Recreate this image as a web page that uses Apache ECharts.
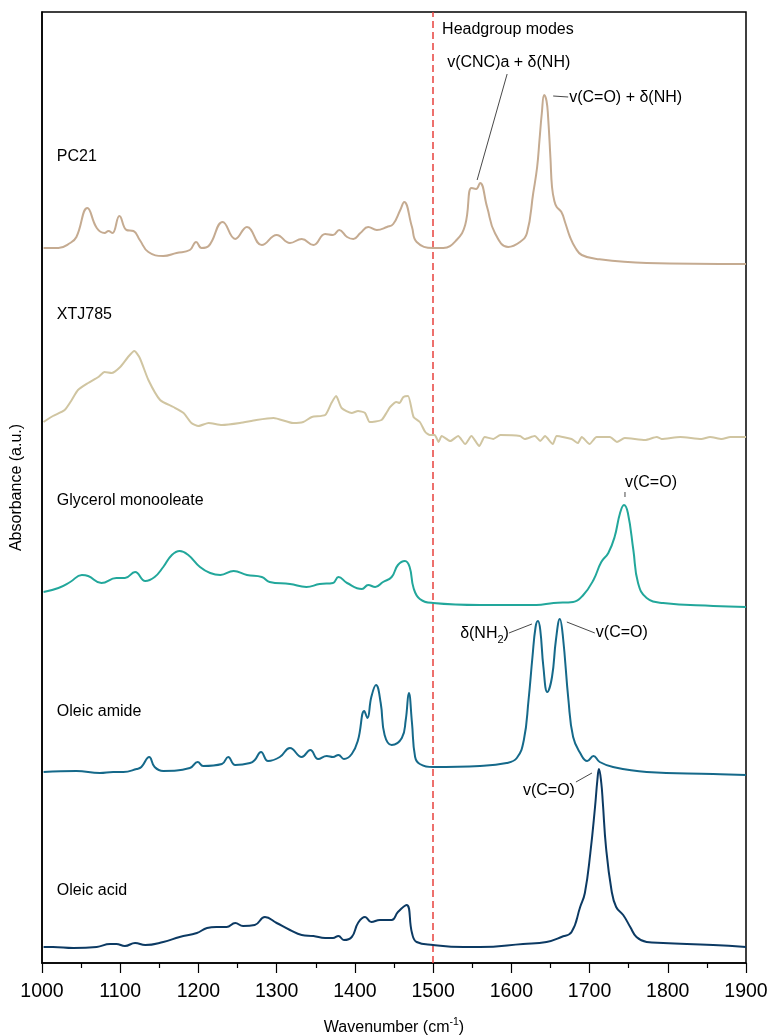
<!DOCTYPE html>
<html>
<head>
<meta charset="utf-8">
<script src="https://cdn.jsdelivr.net/npm/echarts@6/dist/echarts.min.js"></script>
<style>
  html, body { margin: 0; padding: 0; background: #fff; }
  #chart { width: 772px; height: 1035px; }
</style>
</head>
<body>
<div id="chart"></div>
<script>
// FTIR spectra, 1000–1900 cm-1, stacked with a vertical offset per sample.
// Absorbance values are relative to each spectrum's own baseline (a.u.).

const xTicks = [1000, 1100, 1200, 1300, 1400, 1500, 1600, 1700, 1800, 1900];

const sampleNames = ['PC21', 'XTJ785', 'Glycerol monooleate', 'Oleic amide', 'Oleic acid'];
const sampleOffsets = [7.0, 5.2, 3.5, 1.8, 0.1];

const wnPC21 = [1002,1021,1036,1044,1058,1070,1080,1085,1090,1099,1108,1117,1125,1136,1155,1172,1189,1197,1204,1213,1231,1247,1262,1281,1300,1317,1332,1347,1362,1372,1380,1390,1398,1407,1417,1428,1441,1449,1458,1463,1473,1479,1500,1513,1530,1541,1549,1555,1560,1569,1579,1596,1611,1620,1628,1633,1636,1639,1642,1645,1647,1650,1652,1655,1658,1664,1669,1675,1682,1690,1709,1773,1900];
const absPC21 = [0.15,0.15,0.20,0.26,0.55,0.35,0.30,0.32,0.30,0.47,0.33,0.32,0.23,0.11,0.07,0.10,0.13,0.21,0.15,0.17,0.41,0.24,0.36,0.18,0.28,0.20,0.24,0.18,0.29,0.28,0.33,0.26,0.24,0.30,0.36,0.33,0.36,0.39,0.53,0.61,0.36,0.21,0.15,0.15,0.23,0.38,0.75,0.74,0.80,0.56,0.30,0.16,0.21,0.30,0.70,0.96,1.23,1.50,1.68,1.62,1.46,1.05,0.76,0.62,0.56,0.51,0.40,0.26,0.15,0.08,0.04,0.00,-0.01];

const wnXTJ785 = [1002,1014,1029,1038,1046,1059,1072,1080,1089,1100,1110,1118,1125,1136,1151,1168,1181,1191,1200,1213,1230,1253,1274,1296,1321,1334,1345,1362,1370,1376,1383,1396,1404,1413,1419,1434,1441,1445,1453,1457,1462,1468,1475,1483,1490,1496,1502,1507,1511,1522,1532,1541,1549,1559,1566,1577,1586,1611,1617,1630,1637,1643,1653,1658,1677,1685,1690,1700,1709,1726,1735,1745,1771,1786,1792,1816,1843,1854,1869,1880,1900];
const absXTJ785 = [0.21,0.27,0.33,0.43,0.53,0.60,0.66,0.71,0.70,0.76,0.86,0.92,0.85,0.63,0.43,0.36,0.30,0.20,0.17,0.20,0.18,0.20,0.23,0.25,0.20,0.21,0.26,0.28,0.40,0.47,0.35,0.30,0.32,0.30,0.21,0.23,0.31,0.36,0.41,0.40,0.46,0.47,0.26,0.21,0.11,0.08,0.08,0.01,0.07,0.02,0.07,-0.01,0.07,-0.03,0.06,0.04,0.08,0.07,0.04,0.07,0.02,0.07,-0.01,0.07,0.04,0.00,0.06,-0.01,0.06,0.06,0.01,0.05,0.03,0.06,0.04,0.06,0.04,0.06,0.04,0.06,0.06];

const wnGMO = [1002,1021,1036,1051,1059,1076,1095,1106,1119,1132,1144,1155,1166,1176,1187,1202,1215,1228,1245,1262,1281,1291,1317,1338,1355,1372,1379,1390,1409,1417,1426,1436,1447,1455,1464,1470,1475,1483,1500,1560,1632,1654,1679,1692,1705,1715,1724,1732,1739,1744,1749,1756,1762,1773,1794,1858,1900];
const absGMO = [0.21,0.25,0.31,0.38,0.37,0.30,0.35,0.35,0.41,0.32,0.36,0.46,0.58,0.62,0.58,0.46,0.40,0.38,0.42,0.38,0.36,0.31,0.29,0.26,0.29,0.30,0.36,0.30,0.24,0.28,0.26,0.31,0.36,0.48,0.52,0.46,0.25,0.14,0.10,0.08,0.08,0.10,0.11,0.18,0.33,0.51,0.60,0.76,1.00,1.08,1.00,0.63,0.30,0.15,0.10,0.07,0.06];

const wnAmide = [1002,1044,1074,1091,1104,1121,1127,1137,1144,1155,1189,1199,1206,1230,1238,1247,1266,1272,1280,1289,1304,1317,1332,1343,1353,1364,1372,1379,1386,1396,1404,1412,1416,1421,1427,1433,1438,1447,1460,1465,1469,1473,1477,1483,1500,1560,1594,1607,1616,1622,1627,1631,1634,1637,1641,1646,1652,1657,1662,1666,1673,1679,1688,1697,1705,1713,1730,1773,1858,1900];
const absAmide = [0.11,0.12,0.10,0.11,0.11,0.14,0.16,0.26,0.16,0.12,0.15,0.21,0.17,0.19,0.26,0.18,0.20,0.23,0.31,0.22,0.26,0.35,0.26,0.33,0.24,0.27,0.26,0.28,0.24,0.29,0.43,0.72,0.65,0.86,0.98,0.80,0.48,0.38,0.45,0.63,0.90,0.60,0.26,0.19,0.16,0.17,0.20,0.25,0.43,0.83,1.26,1.56,1.62,1.53,1.16,0.91,1.06,1.43,1.64,1.46,0.83,0.46,0.30,0.22,0.27,0.21,0.16,0.11,0.09,0.08];

const wnOleicAcid = [1002,1014,1040,1070,1087,1095,1106,1119,1132,1155,1176,1198,1211,1223,1236,1247,1257,1272,1285,1300,1317,1332,1347,1362,1372,1379,1386,1396,1404,1413,1421,1432,1447,1455,1466,1473,1479,1500,1539,1560,1615,1645,1664,1677,1688,1694,1701,1707,1710,1712,1715,1717,1721,1728,1734,1743,1752,1760,1773,1794,1858,1900];
const absOleicAcid = [0.06,0.06,0.05,0.06,0.09,0.09,0.07,0.10,0.08,0.11,0.16,0.20,0.25,0.26,0.26,0.30,0.27,0.28,0.36,0.30,0.23,0.18,0.17,0.15,0.15,0.17,0.13,0.16,0.30,0.36,0.31,0.33,0.33,0.41,0.48,0.20,0.11,0.08,0.06,0.06,0.09,0.11,0.16,0.21,0.46,0.60,1.00,1.46,1.73,1.84,1.70,1.50,1.06,0.63,0.46,0.38,0.26,0.16,0.11,0.10,0.08,0.06];

const spectraWn = [wnPC21, wnXTJ785, wnGMO, wnAmide, wnOleicAcid];
const spectraAbs = [absPC21, absXTJ785, absGMO, absAmide, absOleicAcid];
const lineColors = ['#C5AB91', '#D0C5A1', '#22A79B', '#15698A', '#0C3A63'];
const smoothing = [0.45, 0.2, 0.45, 0.45, 0.45];

// height of each sample name above its baseline (a.u.)
const nameHeights = [1.06, 1.28, 1.12, 0.71, 0.62];

const headgroupBoundary = 1500;

// Band assignments: sample index, peak wavenumber, label text and pixel placement
const bandLabels = [
  { s: 0, peak: 1555, text: 'v(CNC)a + δ(NH)', dx: -29, dy: -126, align: 'left',  line: [[31, -115], [1, -9]] },
  { s: 0, peak: 1642, text: 'v(C=O) + δ(NH)',  dx: 25,  dy: 3,    align: 'left',  line: [[9, 1], [24, 2]] },
  { s: 2, peak: 1744, text: 'v(C=O)',          dx: 1,   dy: -22,  align: 'left',  line: [[1, -13], [1, -8]] },
  { s: 3, peak: 1634, rich: '{n|δ(NH}{sub|2}{n|)}', dx: -29, dy: 13, align: 'right', line: [[-6, 3], [-29, 12]] },
  { s: 3, peak: 1662, text: 'v(C=O)',          dx: 36,  dy: 14,   align: 'left',  line: [[7, 3], [35, 14]] },
  { s: 4, peak: 1712, text: 'v(C=O)',          dx: -24, dy: 22,   align: 'right', line: [[-7, 4], [-23, 13]] }
];

const FONT = '"Liberation Sans", Arial, Helvetica, sans-serif';

const series = spectraWn.map((wn, i) => ({
  name: sampleNames[i],
  type: 'line',
  data: wn.map((w, k) => [w, sampleOffsets[i] + spectraAbs[i][k]]),
  showSymbol: false,
  smooth: smoothing[i],
  lineStyle: { color: lineColors[i], width: 2 },
  itemStyle: { color: lineColors[i] },
  silent: true,
  z: 3
}));

// dashed boundary of the headgroup region
series[0].markLine = {
  silent: true,
  symbol: ['none', 'none'],
  label: { show: false },
  lineStyle: { color: '#E8413E', type: [7, 4], width: 1.5 },
  data: [{ xAxis: headgroupBoundary }],
  z: 2
};

const option = {
  animation: false,
  backgroundColor: '#fff',
  grid: {
    left: 42, right: 26, top: 12, bottom: 72,
    outerBoundsMode: 'none',
    containLabel: false,
    show: true, borderColor: '#000', borderWidth: 1.5, backgroundColor: 'transparent'
  },
  xAxis: {
    type: 'value',
    min: xTicks[0], max: xTicks[xTicks.length - 1], interval: 100,
    name: '{n|Wavenumber (cm}{sup|-1}{n|)}',
    nameLocation: 'middle',
    nameGap: 54,
    nameTextStyle: {
      rich: {
        n: { fontFamily: FONT, fontSize: 16, color: '#000', lineHeight: 22 },
        sup: { fontFamily: FONT, fontSize: 10.5, color: '#000', lineHeight: 11, verticalAlign: 'top' }
      }
    },
    axisLine: { show: true, onZero: false, lineStyle: { color: '#000', width: 1.5 } },
    axisTick: { show: true, inside: false, length: 10, lineStyle: { color: '#000', width: 1.2 } },
    minorTick: { show: true, splitNumber: 2, length: 5, lineStyle: { color: '#000', width: 1.2 } },
    axisLabel: {
      fontFamily: FONT, fontSize: 19.5, color: '#000', margin: 19,
      formatter: v => String(v)
    },
    splitLine: { show: false },
    minorSplitLine: { show: false }
  },
  yAxis: {
    type: 'value',
    min: 0, max: 9.51,
    name: 'Absorbance (a.u.)',
    nameLocation: 'middle',
    nameGap: 17,
    nameTextStyle: { fontFamily: FONT, fontSize: 16, color: '#000' },
    axisLine: { show: true, onZero: false, lineStyle: { color: '#000', width: 1.5 } },
    axisTick: { show: false },
    axisLabel: { show: false },
    splitLine: { show: false }
  },
  series: series
};

const chart = echarts.init(document.getElementById('chart'), null, { renderer: 'canvas' });
chart.setOption(option);

const toPx = (w, v) => chart.convertToPixel({ gridIndex: 0 }, [w, v]);

const graphics = [];

// sample names
sampleNames.forEach((name, i) => {
  const p = toPx(1019, sampleOffsets[i] + nameHeights[i]);
  graphics.push({
    type: 'text', silent: true, z: 10,
    style: { text: name, x: p[0], y: p[1], font: '16px ' + FONT, fill: '#000', align: 'left', verticalAlign: 'middle' }
  });
});

// region caption next to the boundary line
const hp = toPx(headgroupBoundary, 9.33);
graphics.push({
  type: 'text', silent: true, z: 10,
  style: { text: 'Headgroup modes', x: hp[0] + 9, y: hp[1], font: '16px ' + FONT, fill: '#000', align: 'left', verticalAlign: 'middle' }
});

// band assignments with leader lines
bandLabels.forEach(b => {
  const k = spectraWn[b.s].indexOf(b.peak);
  const p = toPx(b.peak, sampleOffsets[b.s] + spectraAbs[b.s][k]);
  graphics.push({
    type: 'line', silent: true, z: 10,
    shape: { x1: p[0] + b.line[0][0], y1: p[1] + b.line[0][1], x2: p[0] + b.line[1][0], y2: p[1] + b.line[1][1] },
    style: { stroke: '#333', lineWidth: 0.9 }
  });
  const style = { x: p[0] + b.dx, y: p[1] + b.dy, fill: '#000', align: b.align, verticalAlign: 'middle' };
  if (b.rich) {
    style.text = b.rich;
    style.rich = {
      n: { fontFamily: FONT, fontSize: 16, fill: '#000', lineHeight: 22 },
      sub: { fontFamily: FONT, fontSize: 11, fill: '#000', lineHeight: 11, verticalAlign: 'bottom' }
    };
  } else {
    style.text = b.text;
    style.font = '16px ' + FONT;
  }
  graphics.push({ type: 'text', silent: true, z: 10, style: style });
});

chart.setOption({ graphic: graphics });
</script>
</body>
</html>
